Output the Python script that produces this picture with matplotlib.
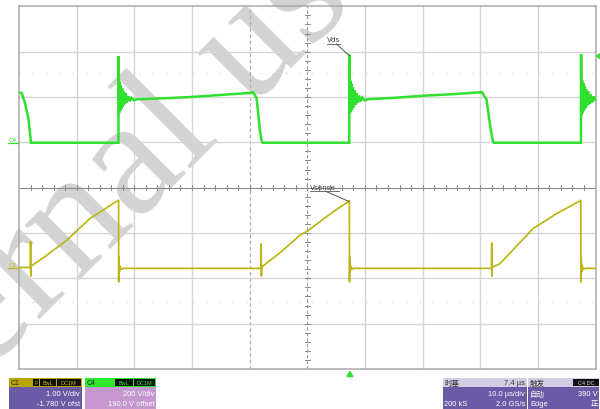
import matplotlib
matplotlib.use('Agg')
import matplotlib.pyplot as plt
from matplotlib.patches import Rectangle, Polygon

# ---------------- data ----------------
time_per_div_us = 10.0
n_xdiv = 10
n_ydiv = 8
c4_volts_per_div = 200.0
c4_offset_v = 190.0
c1_volts_per_div = 1.0
c1_offset_v = -1.780
trigger_time_us = 57.4
trigger_level_v = 390.0

# Vds (C4, green) - time in us from left edge, volts
vds_t = [0, 0.45, 1.02, 1.6, 1.9, 2.05, 10, 17.24,
         17.26, 17.36, 17.45, 17.55, 17.65, 17.76, 17.88, 18.0, 18.15, 18.3, 18.5,
         18.7, 18.95, 19.2, 19.5, 19.9, 20.5,
         25, 30, 35, 40.2, 40.6,
         41.2, 41.8, 42.1, 42.3, 50, 57.28,
         57.3, 57.38, 57.47, 57.57, 57.67, 57.78, 57.9, 58.02, 58.17, 58.32, 58.52,
         58.72, 58.97, 59.22, 59.52, 59.92, 60.5,
         65, 70.4, 75, 80.3,
         81.1, 81.7, 82.2, 82.4, 90, 97.48,
         97.5, 97.58, 97.67, 97.77, 97.87, 97.98, 98.1, 98.22, 98.37, 98.52, 98.72,
         98.92, 99.17, 99.42, 99.7, 100]
vds_v = [228, 228, 183, 117, 50, 8, 8, 8,
         391, 140, 275, 150, 262, 158, 248, 168, 236, 178, 226,
         186, 214, 192, 206, 196, 200,
         204, 210, 219, 228, 231,
         205, 58, 14, 8, 8, 8,
         397, 135, 282, 145, 268, 155, 252, 165, 240, 175, 228,
         184, 216, 190, 208, 195, 200,
         206, 216, 222, 231,
         198, 87, 14, 8, 8, 8,
         398, 130, 285, 140, 272, 150, 258, 160, 245, 170, 235,
         178, 222, 186, 212, 196]

# Vsense (C1, yellow) - time in us, volts
vsense_t = [0, 1.95, 2.0, 2.03, 2.08, 4.5, 8.26, 12.3, 15.0, 16.93, 17.26,
            17.28, 17.33, 17.40, 17.5, 17.7, 18.0, 30, 41.95,
            42.0, 42.03, 42.1, 45.6, 48.7, 50.0, 52.3, 54.5, 57.1, 57.3,
            57.32, 57.37, 57.44, 57.54, 57.74, 58.0, 70, 81.95,
            82.0, 82.03, 82.1, 83.4, 89.2, 93.3, 97.2, 97.45,
            97.47, 97.52, 97.6, 97.7, 97.9, 98.2, 100]
vsense_v = [0.02, 0.02, 0.59, -0.17, 0.05, 0.26, 0.62, 1.10, 1.32, 1.48, 1.50,
            -0.30, 0.25, -0.08, 0.05, -0.02, 0.0, 0.0, 0.0,
            0.54, -0.17, 0.03, 0.38, 0.73, 0.82, 1.04, 1.25, 1.47, 1.49,
            -0.30, 0.25, -0.08, 0.05, -0.02, 0.0, 0.0, 0.0,
            0.56, -0.17, 0.03, 0.10, 0.88, 1.21, 1.48, 1.50,
            -0.30, 0.25, -0.08, 0.05, -0.02, 0.0, 0.0]

# ---------------- figure ----------------
W, H = 600, 410
fig = plt.figure(figsize=(6, 4.1), dpi=100)
fig.patch.set_facecolor('white')

# background layer (watermark)
ax_bg = fig.add_axes([0, 0, 1, 1], zorder=0)
ax_bg.set_xlim(0, W); ax_bg.set_ylim(H, 0); ax_bg.axis('off')
ax_bg.text(-145, 505, 'Internal use only', rotation=45, rotation_mode='anchor',
           ha='left', va='baseline', fontsize=120, family='Liberation Serif',
           color='#d3d3d3')

# scope screen
L, R, T, B = 19.1, 595.5, 7.3, 370.0
ax = fig.add_axes([L / W, 1 - B / H, (R - L) / W, (B - T) / H], zorder=1)
ax.set_facecolor('none')
xmax = time_per_div_us * n_xdiv
ax.set_xlim(0, xmax)
ax.set_ylim(-n_ydiv / 2, n_ydiv / 2)
ax.set_xticks([]); ax.set_yticks([])
for s in ax.spines.values():
    s.set_color('#a9a9a9'); s.set_linewidth(1.1)

grid_c = '#d6d6d6'
for i in range(1, n_xdiv):
    x = i * time_per_div_us
    if i == 5:
        ax.axvline(x, color='#9a9a9a', lw=0.8, ls=(0, (3, 2)), zorder=1)
    elif i == 4:
        ax.axvline(x, color='#b0b0b0', lw=0.9, ls=(0, (3, 2)), zorder=1)
    else:
        ax.axvline(x, color=grid_c, lw=1.0, zorder=1)
for j in range(-n_ydiv // 2 + 1, n_ydiv // 2):
    if j == 0:
        ax.axhline(0, color='#8a8a8a', lw=0.8, zorder=1)
    else:
        ax.axhline(j, color=grid_c, lw=1.0, zorder=1)
# faint dotted rows
for yy in (2.53, -2.52):
    ax.axhline(yy, color='#c8c8c8', lw=0.8, ls=(0, (1, 11)), zorder=1)
# centre tick marks
minor = 0.2
k = 1
while k * minor * time_per_div_us < xmax:
    x = k * minor * time_per_div_us
    ax.plot([x, x], [-0.05, 0.05], color='#8a8a8a', lw=0.7, zorder=1)
    k += 1
k = -int(n_ydiv / 2 / minor) + 1
while k * minor < n_ydiv / 2:
    y = k * minor
    ax.plot([49.6, 50.4], [y, y], color='#8a8a8a', lw=0.7, zorder=1)
    k += 1

# traces
vds_div = [v / c4_volts_per_div + c4_offset_v / c4_volts_per_div for v in vds_v]
vs_div = [v / c1_volts_per_div + c1_offset_v / c1_volts_per_div for v in vsense_v]
ax.plot(vds_t, vds_div, color='#2fe02f', lw=1.8, zorder=3, solid_joinstyle='miter')
ax.plot(vsense_t, vs_div, color='#bdb516', lw=1.25, zorder=3)

# overlay layer (labels, markers, status bar)
ov = fig.add_axes([0, 0, 1, 1], zorder=2)
ov.set_xlim(0, W); ov.set_ylim(H, 0); ov.axis('off')

def t2x(t):
    return L + (R - L) * t / xmax

def d2y(d):
    return (T + B) / 2 - d * (B - T) / n_ydiv

# channel ground markers
g4 = d2y(c4_offset_v / c4_volts_per_div) - 2
g1 = d2y(c1_offset_v / c1_volts_per_div)
ov.text(9, g4 - 3.5, 'C4', color='#2fe02f', fontsize=4.5, ha='left', va='center')
ov.plot([8, 18], [g4, g4], color='#2fe02f', lw=0.9)
ov.text(9, g1 - 4.0, 'C1', color='#bdb516', fontsize=4.5, ha='left', va='center')
ov.plot([8, 18], [g1, g1], color='#bdb516', lw=0.9)

# annotations
ov.text(326.5, 40.5, 'Vds', fontsize=5.2, color='#444444', ha='left', va='center')
ov.plot([326.5, 340], [45, 45], color='#555555', lw=0.6)
ov.plot([336.5, 349.5], [45, 57], color='#555555', lw=0.7)
ov.text(309.5, 187.8, 'Vsense', fontsize=5.2, color='#444444', ha='left', va='center')
ov.plot([310, 339], [192, 192], color='#555555', lw=0.6)
ov.plot([325, 349], [192, 202.5], color='#555555', lw=0.7)

# trigger markers
tx = t2x(trigger_time_us)
ov.add_patch(Polygon([[tx - 3, 377.5], [tx + 3, 377.5], [tx, 372.5]], closed=True,
                     color='#2fe02f', clip_on=False))
ty = d2y(trigger_level_v / c4_volts_per_div + c4_offset_v / c4_volts_per_div)
ov.add_patch(Polygon([[600, ty - 2.5], [600, ty + 2.5], [596.5, ty]], closed=True,
                     color='#2fe02f', clip_on=False))

# status bar
fam = ['Liberation Sans', 'Noto Sans CJK SC', 'DejaVu Sans']
cjk = ['Noto Sans CJK SC', 'DejaVu Sans']
purple = '#6b5ba6'
hy0, hy1, by1 = 379.3, 387.8, 410
fs = 5.4

def box(x0, x1, head, body):
    ov.add_patch(Rectangle((x0, hy0), x1 - x0, hy1 - hy0, color=head, lw=0))
    ov.add_patch(Rectangle((x0, hy1), x1 - x0, by1 - hy1, color=body, lw=0))

def badge(x0, x1, txt, tc):
    ov.add_patch(Rectangle((x0, hy0 + 1.0), x1 - x0, hy1 - hy0 - 2.0, color='#111111', lw=0))
    ov.text((x0 + x1) / 2, (hy0 + hy1) / 2 + 0.2, txt, fontsize=4.0, color=tc,
            ha='center', va='center', family=fam)

# C1 box
box(9.3, 81.7, '#b8a600', purple)
ov.text(11, 383.6, 'C1', fontsize=5.0, color='#222222', ha='left', va='center', family=fam)
badge(33, 38.5, 'F', '#c8b800')
badge(39.5, 55.5, 'BwL', '#c8b800')
badge(56.5, 80.5, 'DC1M', '#c8b800')
ov.text(80, 394.8, '1.00 V/div', fontsize=fs, color='white', ha='right', va='center', family=fam)
ov.text(80, 404.5, '-1.780 V ofst', fontsize=fs, color='white', ha='right', va='center', family=fam)

# C4 box
box(85, 155.7, '#2ee82e', '#c497cf')
ov.text(87, 383.6, 'C4', fontsize=5.0, color='#222222', ha='left', va='center', family=fam)
badge(115, 132.5, 'BwL', '#2ee82e')
badge(133.5, 155, 'DC1M', '#2ee82e')
ov.text(154.5, 394.8, '200 V/div', fontsize=fs, color='white', ha='right', va='center', family=fam)
ov.text(154.5, 404.5, '190.0 V offset', fontsize=fs, color='white', ha='right', va='center', family=fam)

# timebase box
box(442.7, 526.7, '#d2cde2', purple)
ov.text(444, 383.6, '时基', fontsize=5.4, color='#333333', ha='left', va='center', family=cjk)
ov.text(525, 383.6, '7.4 µs', fontsize=fs, color='#333333', ha='right', va='center', family=fam)
ov.text(525, 394.8, '10.0 µs/div', fontsize=fs, color='white', ha='right', va='center', family=fam)
ov.text(444, 404.5, '200 kS', fontsize=fs, color='white', ha='left', va='center', family=fam)
ov.text(525, 404.5, '2.0 GS/s', fontsize=fs, color='white', ha='right', va='center', family=fam)

# trigger box
box(528.3, 599, '#d2cde2', purple)
ov.text(530, 383.6, '触发', fontsize=5.4, color='#333333', ha='left', va='center', family=cjk)
badge(573, 598.5, 'C4 DC', '#dddddd')
ov.text(530, 394.8, '自动', fontsize=5.4, color='white', ha='left', va='center', family=cjk)
ov.text(598, 394.8, '390 V', fontsize=fs, color='white', ha='right', va='center', family=fam)
ov.text(530, 404.5, 'Edge', fontsize=fs, color='white', ha='left', va='center', family=fam)
ov.text(598, 404.5, '正', fontsize=5.4, color='white', ha='right', va='center', family=cjk)

fig.savefig('out.png', dpi=100, facecolor='white')
